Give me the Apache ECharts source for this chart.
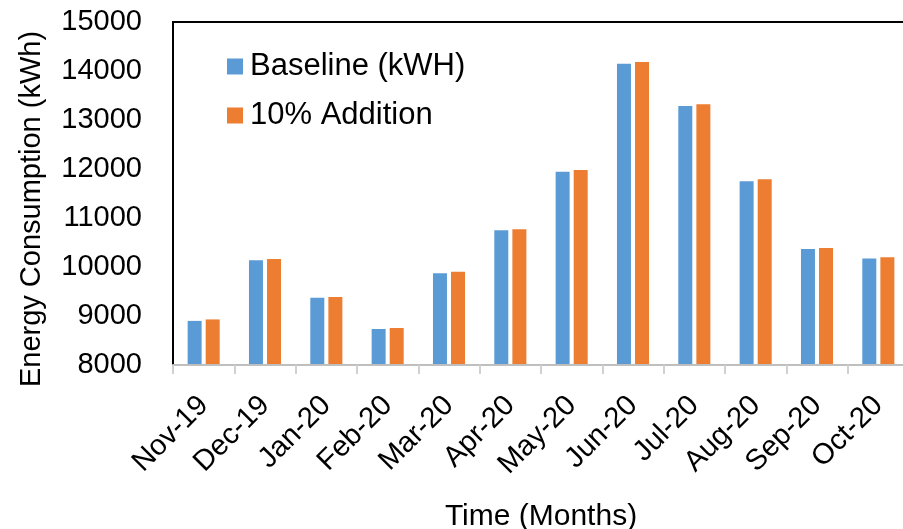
<!DOCTYPE html>
<html>
<head>
<meta charset="utf-8">
<script src="https://cdn.jsdelivr.net/npm/echarts@6/dist/echarts.min.js"></script>
<style>
  html, body { margin: 0; padding: 0; background: #fff; }
  #chart { width: 903px; height: 529px; }
</style>
</head>
<body>
<div id="chart"></div>
<script>
// Monthly energy consumption, baseline vs. 10% addition
const months = ['Nov-19', 'Dec-19', 'Jan-20', 'Feb-20', 'Mar-20', 'Apr-20',
                'May-20', 'Jun-20', 'Jul-20', 'Aug-20', 'Sep-20', 'Oct-20'];
const baseline = [8900, 10140, 9370, 8735, 9870, 10750, 11945, 14150, 13285, 11750, 10365, 10175];
const addition = [8930, 10165, 9390, 8755, 9905, 10770, 11980, 14185, 13320, 11790, 10390, 10200];
const seriesNames = ['Baseline (kWH)', '10% Addition'];
const yTicks = { min: 8000, max: 15000, interval: 1000 };

const FONT = '"Liberation Sans", Arial, sans-serif';
const chart = echarts.init(document.getElementById('chart'), null, { renderer: 'canvas' });

chart.setOption({
  animation: false,
  backgroundColor: '#ffffff',
  color: ['#5B9BD5', '#ED7D31'],
  textStyle: { fontFamily: FONT },
  grid: {
    left: 173, top: 22, width: 736, height: 343,
    outerBoundsMode: 'none',
    containLabel: false,
    show: true, borderColor: '#000000', borderWidth: 2,
    backgroundColor: 'transparent'
  },
  legend: {
    orient: 'vertical',
    left: 227, top: 51,
    padding: 0,
    itemWidth: 16, itemHeight: 16, itemGap: 18,
    icon: 'rect',
    textStyle: { fontFamily: FONT, fontSize: 31, color: '#000', lineHeight: 30, padding: [0, 0, 0, 2] },
    data: seriesNames
  },
  xAxis: {
    type: 'category',
    data: months,
    z: 3,
    name: 'Time (Months)',
    nameLocation: 'middle',
    nameGap: 137,
    nameTextStyle: { fontFamily: FONT, fontSize: 30, color: '#000' },
    axisLine: { show: true, lineStyle: { color: '#BFBFBF', width: 2 } },
    axisTick: { show: true, length: 9, lineStyle: { color: '#D0D0D0', width: 2 } },
    axisLabel: { rotate: 45, margin: 36, fontFamily: FONT, fontSize: 29, color: '#000' },
    splitLine: { show: false }
  },
  yAxis: {
    type: 'value',
    min: yTicks.min, max: yTicks.max, interval: yTicks.interval,
    name: 'Energy Consumption (kWh)',
    nameLocation: 'middle',
    nameGap: 127,
    nameTextStyle: { fontFamily: FONT, fontSize: 29, color: '#000', padding: [0, 31, 0, 0] },
    axisLine: { show: false },
    axisTick: { show: false },
    axisLabel: { margin: 31, fontFamily: FONT, fontSize: 29, color: '#000', formatter: v => String(v) },
    splitLine: { show: false }
  },
  series: [
    { name: seriesNames[0], type: 'bar', data: baseline, barWidth: 14, barGap: '29%' },
    { name: seriesNames[1], type: 'bar', data: addition, barWidth: 14, barGap: '29%' }
  ]
});
</script>
</body>
</html>
